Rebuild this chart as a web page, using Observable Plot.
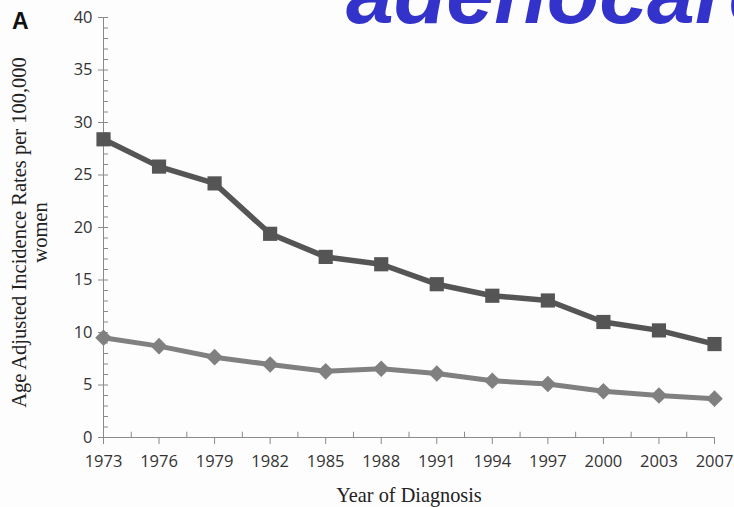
<!DOCTYPE html>
<html><head><meta charset="utf-8">
<script src="https://cdn.jsdelivr.net/npm/d3@7"></script>
<script src="https://cdn.jsdelivr.net/npm/@observablehq/plot@0.6"></script>
<style>
body{margin:0;background:#fff;}
#wrap{position:relative;width:734px;height:507px;overflow:hidden;background:#fdfdfd;}
#panel{position:absolute;left:12px;top:10px;font:bold 23px/23px "Liberation Sans",Arial,sans-serif;color:#111;}
#headline{position:absolute;left:346px;top:-50px;font:italic bold 86px/86px "Liberation Sans",Arial,sans-serif;color:#3333cc;white-space:nowrap;}
#chart{position:absolute;left:0;top:0;}
</style>
</head><body>
<div id="wrap">
  <div id="chart"></div>
  <div id="panel">A</div>
  <div id="headline">adenocarcinoma</div>
</div>
<script>
const years = ["1973","1976","1979","1982","1985","1988","1991","1994","1997","2000","2003","2007"];
const squareSeries = [28.4, 25.8, 24.2, 19.4, 17.2, 16.5, 14.6, 13.5, 13.05, 11.0, 10.2, 8.9];
const diamondSeries = [9.5, 8.7, 7.65, 6.95, 6.3, 6.55, 6.1, 5.4, 5.1, 4.4, 4.0, 3.7];
const yTicks = [0, 5, 10, 15, 20, 25, 30, 35, 40];
const xTitle = "Year of Diagnosis";
const yTitle = "Age Adjusted Incidence Rates per 100,000\nwomen";

const data = years.map((year, i) => ({i, year, sq: squareSeries[i], di: diamondSeries[i]}));
const idx = d3.range(years.length);
const halfSteps = d3.range(years.length - 1).map(i => i + 0.5);
const minorY = d3.range(0, 41);
const axisColor = "#8a8a8a";

const chart = Plot.plot({
  width: 734, height: 507,
  marginLeft: 103, marginRight: 20, marginTop: 17, marginBottom: 70,
  style: {background: "transparent", fontFamily: "'Open Sans', sans-serif", fontSize: "16px", color: "#333"},
  x: {domain: [0, years.length - 1]},
  y: {domain: [0, 40]},
  marks: [
    Plot.ruleX(halfSteps, {x: d => d, y1: 0, y2: 0.5, stroke: axisColor}),
    Plot.ruleY(minorY, {y: d => d, x1: 0, x2: 0.09, stroke: axisColor}),
    Plot.axisX(idx, {tickSize: 7, tickPadding: 11, tickFormat: i => years[i], stroke: axisColor, fill: "#333", label: null, fontSize: 16.5}),
    Plot.axisY(yTicks, {tickSize: 5, tickPadding: 6, stroke: axisColor, fill: "#333", label: null, fontSize: 16.5}),
    Plot.ruleX([0], {stroke: axisColor}),
    Plot.ruleY([0], {stroke: axisColor}),
    Plot.line(data, {x: "i", y: "di", stroke: "#808080", strokeWidth: 5}),
    Plot.dot(data, {x: "i", y: "di", symbol: "diamond2", r: 7.5, fill: "#808080", stroke: "none"}),
    Plot.line(data, {x: "i", y: "sq", stroke: "#555555", strokeWidth: 5.5}),
    Plot.dot(data, {x: "i", y: "sq", symbol: "square", r: 8, fill: "#555555", stroke: "none"}),
    Plot.text([xTitle], {frameAnchor: "bottom", dy: 64, fontFamily: "'Liberation Serif', serif", fontSize: 20.3, fill: "#222"}),
    Plot.text([yTitle], {frameAnchor: "left", textAnchor: "middle", rotate: -90, dx: -74, dy: 5, lineHeight: 1.02, fontFamily: "'Liberation Serif', serif", fontSize: 20.5, fill: "#222"})
  ]
});
document.getElementById("chart").appendChild(chart);
</script>
</body></html>
